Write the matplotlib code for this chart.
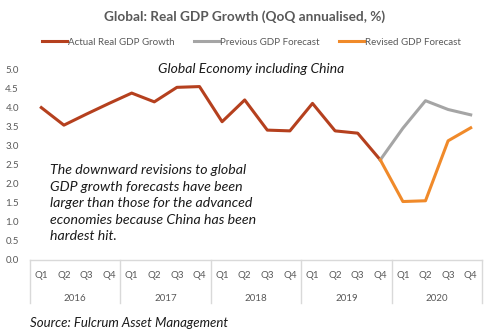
import numpy as np
import matplotlib.pyplot as plt
import matplotlib.transforms as mtransforms

plt.rcParams['font.family'] = ['Lato', 'DejaVu Sans']

years = ['2016', '2017', '2018', '2019', '2020']
quarters = ['Q1', 'Q2', 'Q3', 'Q4']
nan = np.nan
actual = [3.99, 3.53, 3.82, 4.10, 4.37, 4.14, 4.52, 4.54,
          3.62, 4.19, 3.40, 3.38, 4.10, 3.38, 3.32, 2.62,
          nan, nan, nan, nan]
previous = [nan] * 15 + [2.62, 3.45, 4.17, 3.94, 3.80]
revised = [nan] * 15 + [2.62, 1.53, 1.55, 3.12, 3.46]

grey = '#595959'
x = np.arange(len(actual))

fig = plt.figure(figsize=(5, 3.35), dpi=100)
ax = fig.add_axes([0.06, 0.224, 0.904, 0.570])

ax.plot(x, actual, color='#B5401E', lw=2.2, label='Actual Real GDP Growth')
ax.plot(x, previous, color='#A5A5A5', lw=2.2, label='Previous GDP Forecast')
ax.plot(x, revised, color='#F08A2A', lw=2.2, label='Revised GDP Forecast')

ax.set_xlim(-0.5, 19.5)
ax.set_ylim(0, 5)
yt = np.arange(0, 5.01, 0.5)
ax.set_yticks(yt)
ax.set_yticklabels([f'{v:.1f}' for v in yt])
ax.set_xticks(x)
ax.set_xticklabels(quarters * len(years))
ax.tick_params(axis='both', length=0, labelsize=7, colors=grey)
ax.tick_params(axis='x', pad=8)
ax.tick_params(axis='y', pad=8)

for s in ['top', 'right', 'left']:
    ax.spines[s].set_visible(False)
ax.spines['bottom'].set_color('#D9D9D9')
ax.spines['bottom'].set_linewidth(1)

# year labels and separators for the two-level axis
trans = mtransforms.blended_transform_factory(ax.transData, ax.transAxes)
for i, yr in enumerate(years):
    ax.text(i * 4 + 1.5, -0.2, yr, transform=trans, ha='center', va='center',
            fontsize=7, color=grey)
for b in np.arange(-0.5, 20, 4):
    ax.plot([b, b], [0, -0.225], transform=trans, color='#D9D9D9', lw=1,
            clip_on=False)

ax.legend(loc='lower center', bbox_to_anchor=(0.49, 1.07), ncol=3, frameon=False,
          fontsize=7, labelcolor=grey, handlelength=2.6, handletextpad=0.1,
          columnspacing=2.0)

fig.text(0.49, 0.95, 'Global: Real GDP Growth (QoQ annualised, %)', ha='center',
         va='center', fontsize=9.8, fontweight='bold', color=grey)
ax.text(0.49, 1.0, 'Global Economy including China', transform=ax.transAxes,
        ha='center', va='center', fontsize=10, style='italic', color='#1a1a1a')
ax.text(0.045, 0.5, 'The downward revisions to global\nGDP growth forecasts have been\n'
        'larger than those for the advanced\neconomies because China has been\nhardest hit.',
        transform=ax.transAxes, ha='left', va='top', fontsize=10.2, style='italic',
        color='#1a1a1a', linespacing=1.45)
fig.text(0.06, 0.035, 'Source: Fulcrum Asset Management', ha='left', va='center',
         fontsize=9.5, style='italic', color='#1a1a1a')

fig.savefig('out.png', dpi=100)
